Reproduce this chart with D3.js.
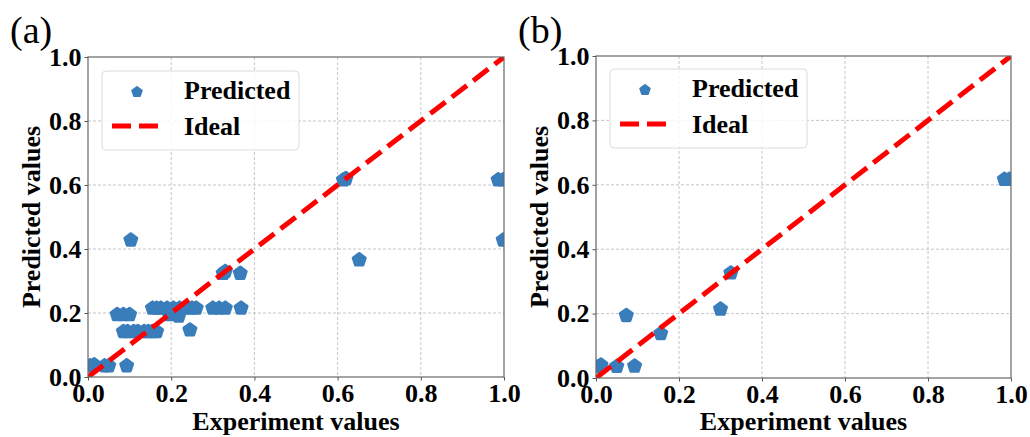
<!DOCTYPE html>
<html>
<head>
<meta charset="utf-8">
<script src="https://cdn.jsdelivr.net/npm/d3@7"></script>
<style>
  body { margin: 0; background: #fff; }
  svg { display: block; }
  .tick text { font-family: "Liberation Serif", serif; font-weight: bold; font-size: 26px; fill: #000; }
  .axisLabel { font-family: "Liberation Serif", serif; font-weight: bold; font-size: 26px; fill: #000; }
  .panelTag { font-family: "Liberation Serif", serif; font-size: 38px; fill: #000; }
  .legendText { font-family: "Liberation Serif", serif; font-weight: bold; font-size: 26px; fill: #000; }
</style>
</head>
<body>
<script>
//data (experiment value, predicted value)
var expA = [0.005, 0.015, 0.04, 0.05, 0.093,
            0.07, 0.085, 0.10,
            0.085, 0.095, 0.11, 0.12, 0.135, 0.145, 0.155, 0.165,
            0.155, 0.165, 0.175, 0.19, 0.205, 0.22, 0.235, 0.25, 0.26,
            0.195, 0.218, 0.30, 0.315, 0.33, 0.368,
            0.245, 0.325, 0.33, 0.366,
            0.103, 0.652, 0.614, 0.62, 0.986, 0.998, 0.998];
var predA = [0.035, 0.038, 0.035, 0.035, 0.035,
             0.195, 0.195, 0.195,
             0.142, 0.142, 0.142, 0.142, 0.142, 0.142, 0.142, 0.142,
             0.215, 0.215, 0.215, 0.215, 0.215, 0.215, 0.215, 0.215, 0.215,
             0.195, 0.19, 0.215, 0.215, 0.215, 0.215,
             0.147, 0.324, 0.33, 0.324,
             0.428, 0.366, 0.616, 0.62, 0.616, 0.616, 0.428];
var expB = [0.005, 0.012, 0.05, 0.093, 0.073, 0.156, 0.30, 0.325, 0.984, 0.996];
var predB = [0.035, 0.04, 0.036, 0.037, 0.194, 0.138, 0.214, 0.326, 0.617, 0.617];
var ticks = [0, 0.2, 0.4, 0.6, 0.8, 1.0];
var ideal = [0, 1];
var legendNames = ["Predicted", "Ideal"];
var xTitle = "Experiment values", yTitle = "Predicted values";

var svg = d3.select("body").append("svg")
    .attr("width", 1030)
    .attr("height", 437);

var pointColor = "#3a7dbb";

//rounded pentagon marker like matplotlib "p"
function pentagon(r){
    var pts = d3.range(5).map(function(i){
        var a = -Math.PI / 2 + i * 2 * Math.PI / 5;
        return [r * Math.cos(a), r * Math.sin(a)];
    });
    return "M" + pts.join("L") + "Z";
}

function drawPanel(id, left, right, top, bottom, xs, ys, tag, legendBox){
    var x = d3.scaleLinear().domain([0, 1]).range([left, right]);
    var y = d3.scaleLinear().domain([0, 1]).range([bottom, top]);
    var g = svg.append("g");

    //clip marks to the axes
    g.append("clipPath").attr("id", "clip" + id)
        .append("rect")
        .attr("x", left).attr("y", top)
        .attr("width", right - left).attr("height", bottom - top);

    //grid
    g.selectAll(".gx").data(ticks.slice(1, -1)).enter().append("line")
        .attr("x1", function(d){ return x(d); }).attr("x2", function(d){ return x(d); })
        .attr("y1", top).attr("y2", bottom)
        .attr("stroke", "#b8b8b8").attr("stroke-width", 0.8).attr("stroke-dasharray", "3,2");
    g.selectAll(".gy").data(ticks.slice(1, -1)).enter().append("line")
        .attr("y1", function(d){ return y(d); }).attr("y2", function(d){ return y(d); })
        .attr("x1", left).attr("x2", right)
        .attr("stroke", "#b8b8b8").attr("stroke-width", 0.8).attr("stroke-dasharray", "3,2");

    var marks = g.append("g").attr("clip-path", "url(#clip" + id + ")");
    marks.selectAll("path.pt").data(xs).enter().append("path")
        .attr("class", "pt")
        .attr("d", pentagon(6.3))
        .attr("transform", function(d, i){ return "translate(" + x(d) + "," + y(ys[i]) + ")"; })
        .attr("fill", pointColor)
        .attr("stroke", pointColor)
        .attr("stroke-width", 3)
        .attr("stroke-linejoin", "round");

    marks.append("line")
        .attr("x1", x(ideal[0])).attr("y1", y(ideal[0]))
        .attr("x2", x(ideal[1])).attr("y2", y(ideal[1]))
        .attr("stroke", "#ff0000").attr("stroke-width", 5)
        .attr("stroke-dasharray", "19,8");

    //axes
    var xAxis = g.append("g")
        .attr("transform", "translate(0," + bottom + ")")
        .call(d3.axisBottom(x).tickValues(ticks).tickFormat(d3.format(".1f")).tickSize(3.5).tickPadding(3));
    var yAxis = g.append("g")
        .attr("transform", "translate(" + left + ",0)")
        .call(d3.axisLeft(y).tickValues(ticks).tickFormat(d3.format(".1f")).tickSize(3.5).tickPadding(3));
    [xAxis, yAxis].forEach(function(a){
        a.select(".domain").remove();
        a.selectAll(".tick line").attr("stroke", "#555");
    });

    g.append("rect")
        .attr("x", left).attr("y", top)
        .attr("width", right - left).attr("height", bottom - top)
        .attr("fill", "none").attr("stroke", "#666").attr("stroke-width", 1.2);

    //axis titles
    g.append("text").attr("class", "axisLabel")
        .attr("x", (left + right) / 2).attr("y", 430)
        .attr("text-anchor", "middle").text(xTitle);
    g.append("text").attr("class", "axisLabel")
        .attr("transform", "translate(" + (left - 48) + "," + ((top + bottom) / 2) + ") rotate(-90)")
        .attr("text-anchor", "middle").text(yTitle);

    g.append("text").attr("class", "panelTag")
        .attr("x", left - 78).attr("y", 43).text(tag);

    //legend
    var lg = g.append("g");
    lg.append("rect")
        .attr("x", legendBox[0]).attr("y", legendBox[1])
        .attr("width", legendBox[2]).attr("height", legendBox[3])
        .attr("rx", 4)
        .attr("fill", "#fff").attr("fill-opacity", 0.8)
        .attr("stroke", "#dcdcdc").attr("stroke-width", 1);
    lg.append("path")
        .attr("d", pentagon(5))
        .attr("transform", "translate(" + (legendBox[0] + 35) + "," + (legendBox[1] + 21) + ")")
        .attr("fill", pointColor).attr("stroke", pointColor)
        .attr("stroke-width", 2).attr("stroke-linejoin", "round");
    lg.append("line")
        .attr("x1", legendBox[0] + 10).attr("x2", legendBox[0] + 57)
        .attr("y1", legendBox[1] + 55).attr("y2", legendBox[1] + 55)
        .attr("stroke", "#ff0000").attr("stroke-width", 5)
        .attr("stroke-dasharray", "19,8");
    lg.selectAll("text.legendText").data(legendNames).enter().append("text")
        .attr("class", "legendText")
        .attr("x", legendBox[0] + 82)
        .attr("y", function(d, i){ return legendBox[1] + 28 + i * 36; })
        .text(function(d){ return d; });
}

drawPanel("a", 88, 504, 57, 377, expA, predA, "(a)", [102, 71, 197, 79]);
drawPanel("b", 596, 1011, 56, 378, expB, predB, "(b)", [610, 69, 197, 79]);
</script>
</body>
</html>
